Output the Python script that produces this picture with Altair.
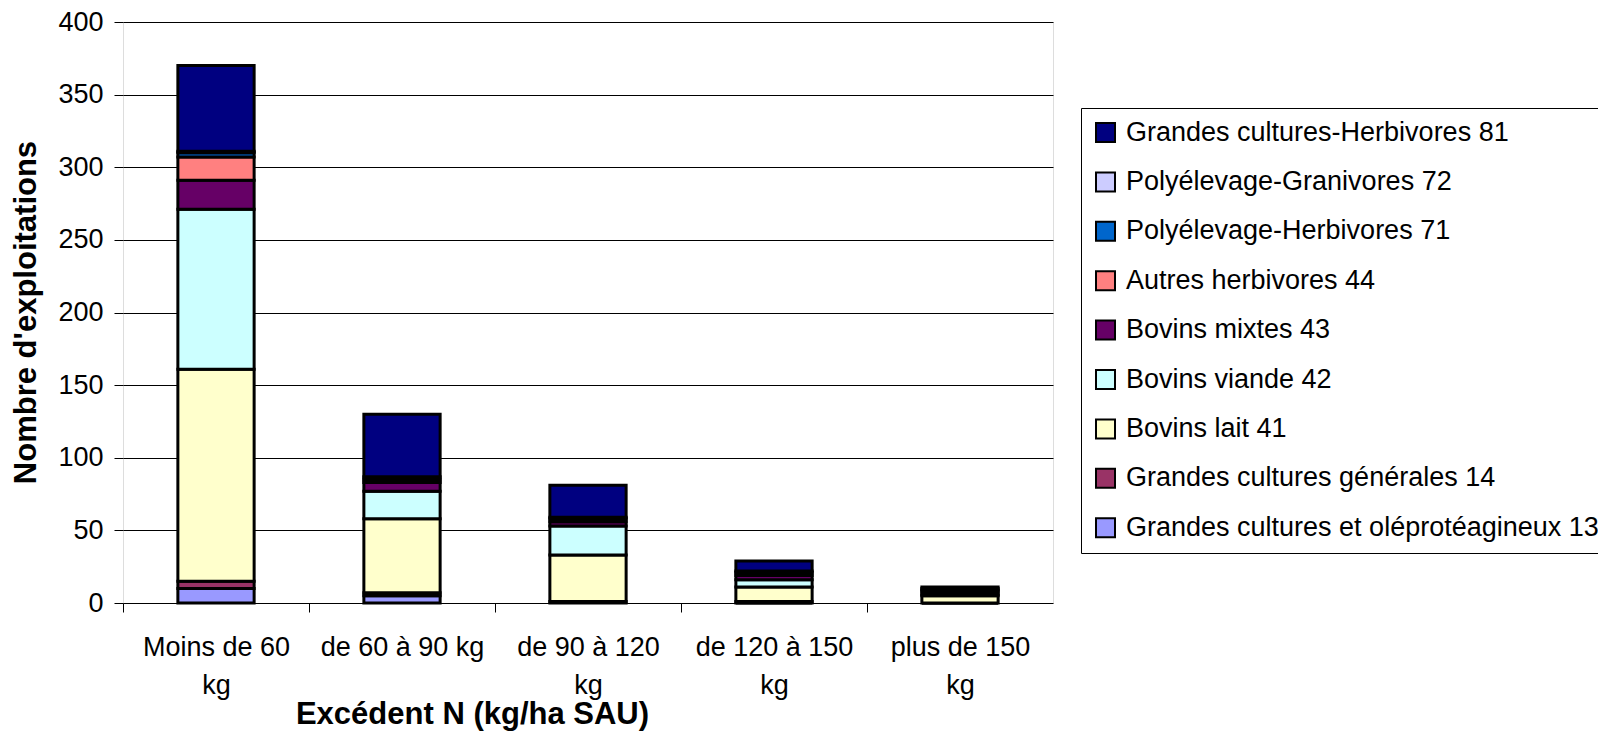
import altair as alt
import pandas as pd

categories = ["Moins de 60 kg", "de 60 à 90 kg", "de 90 à 120 kg", "de 120 à 150 kg", "plus de 150 kg"]

# series, listed bottom of stack first
series_names = [
    "Grandes cultures et oléprotéagineux 13",
    "Grandes cultures générales 14",
    "Bovins lait 41",
    "Bovins viande 42",
    "Bovins mixtes 43",
    "Autres herbivores 44",
    "Polyélevage-Herbivores 71",
    "Polyélevage-Granivores 72",
    "Grandes cultures-Herbivores 81",
]
gco13 = [10, 5, 1, 0, 0]
gcg14 = [5, 2, 0, 1, 0]
bl41 = [146, 51, 32, 10, 5]
bv42 = [110, 19, 20, 5, 1]
bm43 = [20, 6, 3, 3, 2]
ah44 = [16, 2, 2, 2, 1]
ph71 = [3, 2, 1, 1, 1]
pg72 = [1, 0, 0, 0, 0]
gch81 = [59, 43, 22, 7, 1]
series_values = [gco13, gcg14, bl41, bv42, bm43, ah44, ph71, pg72, gch81]
series_colors = ["#9999FF", "#993366", "#FFFFCC", "#CCFFFF", "#660066",
                 "#FF8080", "#0066CC", "#CCCCFF", "#000080"]

y_ticks = [0, 50, 100, 150, 200, 250, 300, 350, 400]

rows = []
for rank, (name, vals) in enumerate(zip(series_names, series_values)):
    for cat, v in zip(categories, vals):
        rows.append({"cat": cat, "serie": name, "value": v, "rank": rank})
df = pd.DataFrame(rows)

legend_order = list(reversed(series_names))
legend_colors = list(reversed(series_colors))

FONT = "Liberation Sans"

label_expr = ("datum.label == 'de 60 à 90 kg' ? datum.label : "
              "[slice(datum.label, 0, lastindexof(datum.label, ' ')), "
              "slice(datum.label, lastindexof(datum.label, ' ') + 1)]")

chart = alt.Chart(df).mark_bar(stroke="black", strokeWidth=3).encode(
    x=alt.X("cat:N", sort=categories,
            scale=alt.Scale(paddingInner=0.59, paddingOuter=0.295),
            axis=alt.Axis(title="Excédent N (kg/ha SAU)", labelAngle=0,
                          labelExpr=label_expr, labelFontSize=27, labelFont=FONT,
                          labelColor="black", labelBaseline="top",
                          labelPadding=22, labelLineHeight=38,
                          tickSize=9, tickColor="black", tickOffset=-93,
                          labelOffset=93, domain=False,
                          titleFont=FONT, titleFontSize=31, titleFontWeight="bold",
                          titleColor="black", titleX=349, titleY=120,
                          titleAlign="center", titleBaseline="alphabetic")),
    y=alt.Y("value:Q", stack="zero",
            scale=alt.Scale(domain=[0, 400], nice=False),
            axis=alt.Axis(title="Nombre d'exploitations", values=y_ticks,
                          labelFontSize=27, labelFont=FONT, labelColor="black",
                          labelPadding=11, tickSize=9, tickColor="black",
                          domain=False, grid=True, gridColor="#000000",
                          gridWidth=1,
                          titleFont=FONT, titleFontSize=31, titleFontWeight="bold",
                          titleColor="black", titleX=-97, titleY=290,
                          titleAngle=270, titleBaseline="middle",
                          titleAlign="center")),
    color=alt.Color("serie:N",
                    scale=alt.Scale(domain=legend_order, range=legend_colors),
                    legend=alt.Legend(title=None, orient="none", legendX=958,
                                      legendY=86, symbolType="square",
                                      symbolSize=361, symbolStrokeColor="black",
                                      symbolStrokeWidth=2, symbolOpacity=1,
                                      labelFont=FONT, labelFontSize=27,
                                      labelColor="black", labelOffset=7,
                                      labelLimit=800, rowPadding=21.4,
                                      padding=11, strokeColor="black",
                                      fillColor="white")),
    order=alt.Order("rank:Q", sort="ascending"),
).properties(
    width=930,
    height=581,
    autosize=alt.AutoSizeParams(type="none"),
    padding={"left": 115, "top": 14, "right": 545, "bottom": 128},
).configure_view(
    stroke="#808080", strokeWidth=2
).configure(background="white")

chart.save("out.html", embed_options={"renderer": "svg", "actions": False})
